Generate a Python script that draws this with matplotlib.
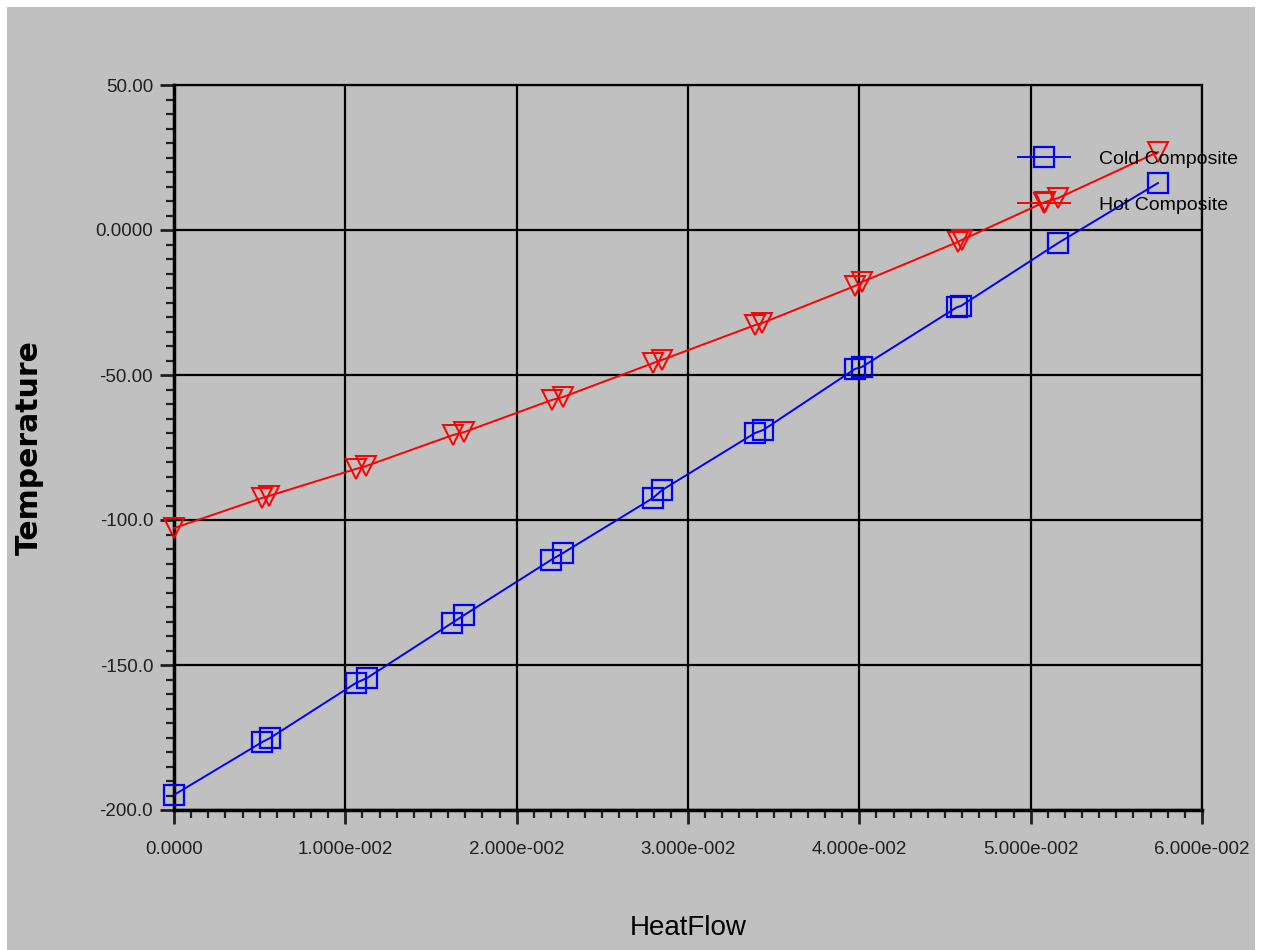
import numpy as np
import matplotlib
matplotlib.use("Agg")
from matplotlib import pyplot as plt
from matplotlib.patches import Rectangle
from matplotlib.ticker import MultipleLocator, FixedLocator

# Cold composite curve (heat flow, temperature)
cold_q = [0.0, 0.00514, 0.00560, 0.01062, 0.01126, 0.01623, 0.01693, 0.02200, 0.02270,
          0.02796, 0.02848, 0.03391, 0.03438, 0.03975, 0.04016, 0.04570, 0.04593, 0.05160, 0.05743]
cold_t = [-194.8, -176.6, -175.2, -156.2, -154.5, -135.5, -132.8, -113.8, -111.4,
          -92.4, -89.7, -70.0, -69.0, -47.9, -47.2, -26.6, -26.2, -4.5, 16.2]

# Hot composite curve
hot_q = [0.0, 0.00514, 0.00554, 0.01062, 0.01121, 0.01628, 0.01693, 0.02206, 0.02270,
         0.02796, 0.02848, 0.03391, 0.03432, 0.03975, 0.04016, 0.04576, 0.04599, 0.05084, 0.05160, 0.05743]
hot_t = [-102.8, -92.4, -91.7, -82.4, -81.4, -70.7, -69.7, -58.6, -57.6,
         -45.9, -44.8, -32.8, -32.1, -19.3, -17.9, -4.1, -3.4, 9.7, 11.0, 26.9]

x_ticks = [0.0, 0.01, 0.02, 0.03, 0.04, 0.05, 0.06]
x_labels = ["0.0000", "1.000e-002", "2.000e-002", "3.000e-002", "4.000e-002", "5.000e-002", "6.000e-002"]
y_ticks = [-200, -150, -100, -50, 0, 50]
y_labels = ["-200.0", "-150.0", "-100.0", "-50.00", "0.0000", "50.00"]

grey = "#c0c0c0"
font = "Liberation Sans"

fig = plt.figure(figsize=(12.63, 9.5), dpi=100, facecolor="white")
fig.patches.append(Rectangle((7 / 1263, 0), (1255 - 7) / 1263, 1 - 7 / 950,
                             transform=fig.transFigure, facecolor=grey, edgecolor="none", zorder=-10))

ax = fig.add_axes([174 / 1263, 1 - 810 / 950, (1202 - 174) / 1263, (810 - 85) / 950])
ax.set_facecolor(grey)

ax.plot(cold_q, cold_t, color="#0000ff", lw=1.4, marker="s", ms=14, mfc="none", mec="#0000ff",
        mew=1.6, label="Cold Composite", clip_on=False, zorder=3)
ax.plot(hot_q, hot_t, color="#ff0000", lw=1.4, marker="v", ms=15, mfc="none", mec="#ff0000",
        mew=1.4, label="Hot Composite", clip_on=False, zorder=3)

ax.set_xlim(0, 0.06)
ax.set_ylim(-200, 50)
ax.xaxis.set_major_locator(FixedLocator(x_ticks))
ax.set_xticklabels(x_labels)
ax.yaxis.set_major_locator(FixedLocator(y_ticks))
ax.set_yticklabels(y_labels)
ax.xaxis.set_minor_locator(MultipleLocator(0.001))
ax.yaxis.set_minor_locator(MultipleLocator(5))

ax.grid(True, which="major", color="#000000", lw=1.6)
ax.set_axisbelow(True)
for s in ["left", "bottom"]:
    ax.spines[s].set_linewidth(2.5)
for s in ["top", "right"]:
    ax.spines[s].set_linewidth(1.6)

ax.tick_params(which="major", direction="out", length=10, width=2, color="#202020", pad=5)
ax.tick_params(which="minor", direction="out", length=6, width=1.6, color="#202020")
ax.tick_params(axis="x", which="major", pad=12)
for lab in ax.get_xticklabels() + ax.get_yticklabels():
    lab.set_family(font)
    lab.set_fontsize(13.5)
    lab.set_color("#202020")

ax.set_xlabel("HeatFlow", fontsize=20, family=font)
ax.xaxis.set_label_coords(0.5, -(915 - 810) / 725)
ax.set_ylabel("Temperature", fontsize=21.5, family="DejaVu Sans", fontweight="bold")
ax.yaxis.set_label_coords(-(174 - 44) / 1028, 0.5)

leg = ax.legend(loc="upper left", bbox_to_anchor=(826 / 1028, 0.934), frameon=False,
                prop={"family": font, "size": 14}, handlelength=2.7, handletextpad=1.5,
                labelspacing=1.45)

fig.savefig("out.png", dpi=100, facecolor="white")
